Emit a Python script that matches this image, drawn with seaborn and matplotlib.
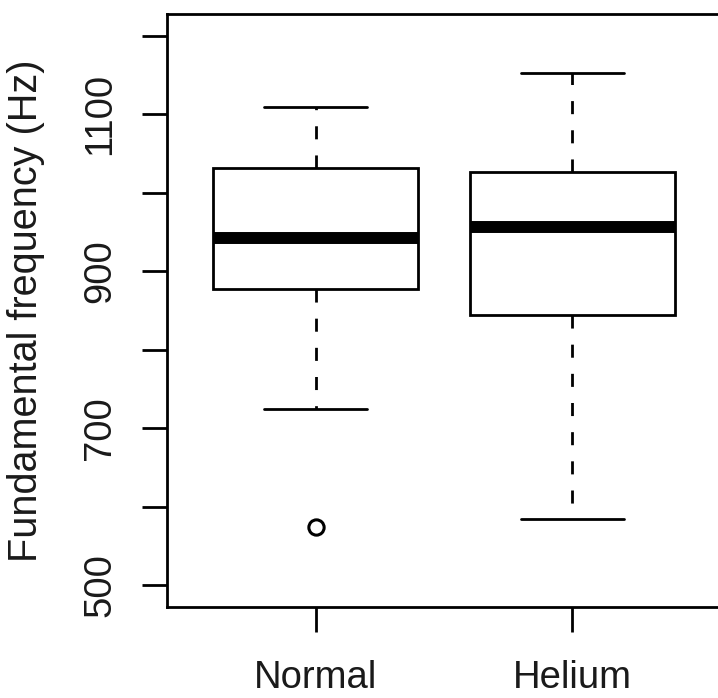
import numpy as np
import pandas as pd
import matplotlib
matplotlib.use("Agg")
import matplotlib.pyplot as plt
import seaborn as sns

# values (q1 / median / q3 sit at the 3rd, 5th, 7th of 9 points)
conditions = ["Normal", "Helium"]
normal_f0 = [574, 725, 878, 878, 942, 1032, 1032, 1110, 1110]
helium_f0 = [584, 584, 844, 844, 956, 1026, 1026, 1153, 1153]
ytick_values = [500, 600, 700, 800, 900, 1000, 1100, 1200]
ytick_labels = ["500", "", "700", "", "900", "", "1100", ""]

df = pd.DataFrame({
    "condition": [conditions[0]] * len(normal_f0) + [conditions[1]] * len(helium_f0),
    "f0": normal_f0 + helium_f0,
})

sns.set_style("white")
plt.rcParams["font.family"] = ["Liberation Sans", "DejaVu Sans"]

fig = plt.figure(figsize=(7.18, 6.98), dpi=100)
ax = fig.add_axes([167 / 718, 91 / 698, 554 / 718, 593 / 698])

sns.boxplot(data=df, x="condition", y="f0", order=conditions, ax=ax,
            color="white", linecolor="black", linewidth=2, width=0.8, whis=1.5,
            medianprops=dict(linewidth=8.6, color="black", solid_capstyle="butt"),
            whiskerprops=dict(linestyle=(0, (4.7, 5.8)), linewidth=2),
            capprops=dict(linewidth=2),
            flierprops=dict(marker="o", markersize=11, markerfacecolor="none",
                            markeredgecolor="black", markeredgewidth=2.2))

ax.set_xlim(-0.58, 1.58)
ax.set_ylim(472, 1228)
ax.set_yticks(ytick_values)
ax.set_yticklabels(ytick_labels, rotation=90, va="center")
ax.set_xlabel("")
ax.set_ylabel("Fundamental frequency (Hz)", fontsize=28.5, labelpad=27,
              color="#1a1a1a")

ax.tick_params(axis="both", direction="out", length=18, width=2, color="black",
               labelsize=27.5, labelcolor="#1a1a1a", left=True, bottom=True)
ax.tick_params(axis="x", pad=20.5)
ax.tick_params(axis="y", pad=17)

for s in ax.spines.values():
    s.set_visible(True)
    s.set_color("black")
    s.set_linewidth(2)

fig.savefig("out.png", dpi=100, facecolor="white")
